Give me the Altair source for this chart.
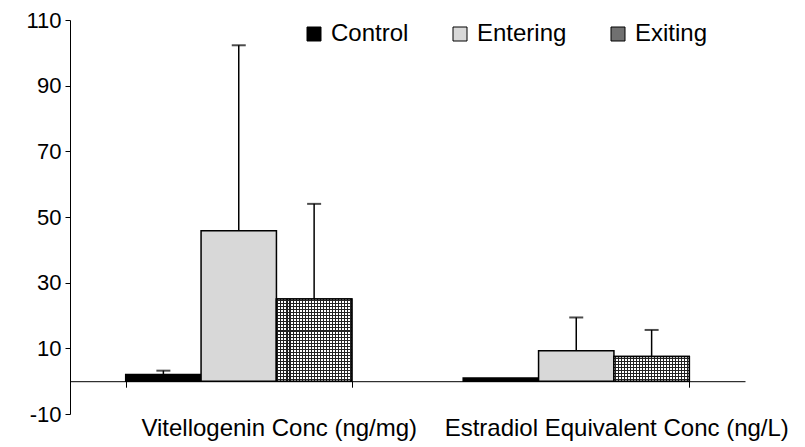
import altair as alt
import pandas as pd

categories = ["Vitellogenin Conc (ng/mg)", "Estradiol Equivalent Conc (ng/L)"]
series = ["Control", "Entering", "Exiting"]
control = [2.0, 1.0]
entering = [45.8, 9.3]
exiting = [25.0, 7.5]
control_err = [1.2, 0.0]
entering_err = [56.5, 10.1]
exiting_err = [29.0, 8.1]
y_ticks = [-10, 10, 30, 50, 70, 90, 110]

rows = []
for s, vals, errs in zip(series, [control, entering, exiting],
                         [control_err, entering_err, exiting_err]):
    for c, v, e in zip(categories, vals, errs):
        rows.append({"cat": c, "series": s, "value": v, "top": v + e, "err": e})
df = pd.DataFrame(rows)

FONT = "Liberation Sans"
W, H = 675, 394
Y_DOMAIN = [-10, 110]

x = alt.X("cat:N", sort=categories,
          scale=alt.Scale(paddingInner=0.33, paddingOuter=0.165),
          axis=alt.Axis(title=None, labelAngle=0, offset=-32.8,
                        domainColor="black", domainWidth=1,
                        tickColor="black", tickBand="extent", tickSize=6,
                        labelFontSize=24, labelFont=FONT, labelColor="black",
                        labelPadding=29, labelOffset=40, labelLimit=0))
xo = alt.XOffset("series:N", sort=series,
                 scale=alt.Scale(paddingInner=0, paddingOuter=0))
y_scale = alt.Scale(domain=Y_DOMAIN, nice=False, zero=False)
y = alt.Y("value:Q", scale=y_scale,
          axis=alt.Axis(values=y_ticks, title=None, grid=False,
                        domainColor="black", tickColor="black", tickSize=5,
                        labelFontSize=22, labelFont=FONT, labelColor="black",
                        labelPadding=4, labelExpr="'' + datum.value"))
color = alt.Color("series:N", sort=series,
                  scale=alt.Scale(domain=series,
                                  range=["#000000", "#d8d8d8", "#707070"]),
                  legend=alt.Legend(orient="none", legendX=232, legendY=2,
                                    direction="horizontal", columns=3,
                                    title=None, symbolType="square",
                                    symbolSize=196, symbolStrokeColor="black",
                                    symbolStrokeWidth=1, labelFontSize=24,
                                    labelFont=FONT, labelColor="black",
                                    columnPadding=39, labelOffset=5,
                                    padding=0))


def stripes(n, dark, light, horizontal):
    stops = []
    for i in range(n):
        a = i / n
        b = (i + 0.33) / n
        m = (i + 0.67) / n
        c = (i + 1) / n
        stops += [{"offset": a, "color": light}, {"offset": b, "color": light},
                  {"offset": b, "color": dark}, {"offset": m, "color": dark},
                  {"offset": m, "color": light}, {"offset": c, "color": light}]
    return {"gradient": "linear", "x1": 0, "y1": 0,
            "x2": 0 if horizontal else 1, "y2": 1 if horizontal else 0,
            "stops": stops}


base = alt.Chart(df)

bars = base.mark_bar(stroke="black", strokeWidth=1.5).encode(
    x=x, xOffset=xo, y=y, y2=alt.datum(0), color=color)

exit_base = base.transform_filter("datum.series == 'Exiting'")
bar_px_w = W * (1 - 0.33) / (2 - 0.33 + 2 * 0.165) / 3
vert = exit_base.mark_bar(
    fill=stripes(max(1, round(bar_px_w / 3)), "#222222", "#ffffff", False),
    strokeWidth=0).encode(
    x=x, xOffset=xo, y=alt.Y("value:Q", scale=y_scale), y2=alt.datum(0))

horiz_layers = []
for c, v in zip(categories, exiting):
    h_px = v * H / (Y_DOMAIN[1] - Y_DOMAIN[0])
    n = max(1, round(h_px / 3))
    horiz_layers.append(
        exit_base.transform_filter(alt.datum.cat == c).mark_bar(
            fill=stripes(n, "#222222", "rgba(0,0,0,0)", True),
            strokeWidth=0).encode(
            x=x, xOffset=xo, y=alt.Y("value:Q", scale=y_scale),
            y2=alt.datum(0)))

outline = exit_base.mark_bar(filled=False, stroke="black", strokeWidth=1.5).encode(
    x=x, xOffset=xo, y=alt.Y("value:Q", scale=y_scale), y2=alt.datum(0))

rules = base.transform_filter("datum.err > 0").mark_rule(
    color="black", strokeWidth=1.5).encode(
    x=x, xOffset=xo, y=alt.Y("value:Q", scale=y_scale), y2="top:Q")

caps = base.transform_filter("datum.err > 0").mark_tick(
    color="black", size=14, thickness=2).encode(
    x=x, xOffset=xo, y=alt.Y("top:Q", scale=y_scale))

chart = alt.layer(bars, vert, *horiz_layers, outline, rules, caps).properties(
    width=W, height=H, autosize="none",
    padding={"left": 70, "top": 20, "right": 60, "bottom": 33},
    background="white",
).configure_view(stroke=None)

chart.save("out.html", embed_options={"renderer": "svg", "actions": False})
